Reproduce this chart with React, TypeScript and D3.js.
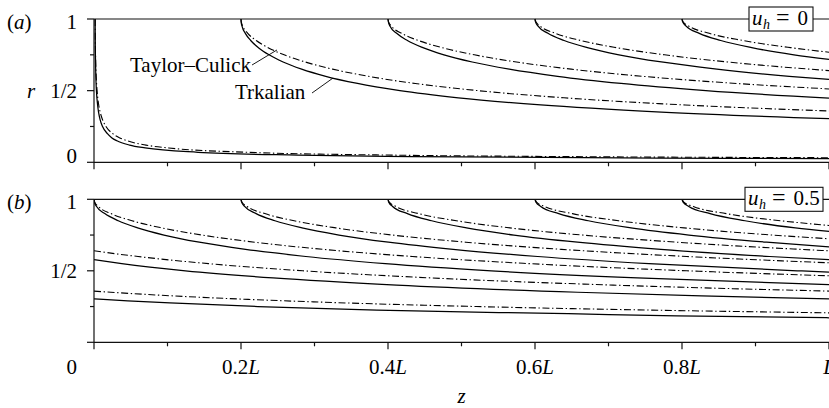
import React, { useEffect, useRef } from 'react';
import * as d3 from 'd3';

type Pt = [number, number]; // [z / L, r]

// ---- panel (a), u_h = 0 ----
// Taylor–Culick (dash-dot)
const tcA0: Pt[] = [[0.0016, 1], [0.00167, 0.9], [0.0019, 0.8], [0.0023, 0.7], [0.003, 0.6], [0.0042, 0.5], [0.0064, 0.4], [0.0084, 0.35], [0.0114, 0.3], [0.0163, 0.25], [0.0255, 0.2], [0.0353, 0.17], [0.0453, 0.15], [0.0707, 0.12], [0.1019, 0.1], [0.2079, 0.07], [0.4074, 0.05], [0.6367, 0.04], [1, 0.032]];
const tcA2: Pt[] = [[0.2, 1], [0.2004, 0.98], [0.2024, 0.95], [0.2092, 0.9], [0.2207, 0.85], [0.2369, 0.8], [0.2587, 0.75], [0.2874, 0.7], [0.3246, 0.65], [0.3733, 0.6], [0.4371, 0.55], [0.5226, 0.5], [0.6394, 0.45], [0.8042, 0.4], [1, 0.358]];
const tcA4: Pt[] = [[0.4, 1], [0.4008, 0.98], [0.4047, 0.95], [0.4185, 0.9], [0.4413, 0.85], [0.4737, 0.8], [0.5175, 0.75], [0.5748, 0.7], [0.6493, 0.65], [0.7465, 0.6], [0.8743, 0.55], [1, 0.512]];
const tcA6: Pt[] = [[0.6, 1], [0.6012, 0.98], [0.6071, 0.95], [0.6278, 0.9], [0.662, 0.85], [0.7106, 0.8], [0.7762, 0.75], [0.8622, 0.7], [0.9739, 0.65], [1, 0.64]];
const tcA8: Pt[] = [[0.8, 1], [0.8015, 0.98], [0.8095, 0.95], [0.837, 0.9], [0.8827, 0.85], [0.9475, 0.8], [1, 0.768]];
// Trkalian (solid)
const tkA0: Pt[] = [[0.0016, 1], [0.00165, 0.9], [0.0018, 0.8], [0.0021, 0.7], [0.0025, 0.6], [0.0033, 0.5], [0.0049, 0.4], [0.0062, 0.35], [0.0082, 0.3], [0.0116, 0.25], [0.0183, 0.2], [0.0244, 0.17], [0.0312, 0.15], [0.0485, 0.12], [0.0696, 0.1], [0.1415, 0.07], [0.2768, 0.05], [0.4322, 0.04], [0.7681, 0.03], [1, 0.026]];
const tkA2: Pt[] = [[0.2, 1], [0.2002, 0.98], [0.2014, 0.95], [0.2059, 0.9], [0.2132, 0.85], [0.2237, 0.8], [0.2381, 0.75], [0.2573, 0.7], [0.2825, 0.65], [0.3153, 0.6], [0.3585, 0.55], [0.4162, 0.5], [0.4957, 0.45], [0.6078, 0.4], [0.772, 0.35], [1, 0.304]];
const tkA4: Pt[] = [[0.4, 1], [0.4005, 0.98], [0.4028, 0.95], [0.4118, 0.9], [0.4264, 0.85], [0.4475, 0.8], [0.4761, 0.75], [0.5146, 0.7], [0.565, 0.65], [0.6307, 0.6], [0.7171, 0.55], [0.8325, 0.5], [1, 0.448]];
const tkA6: Pt[] = [[0.6, 1], [0.6007, 0.98], [0.6042, 0.95], [0.6176, 0.9], [0.6396, 0.85], [0.6712, 0.8], [0.7142, 0.75], [0.7719, 0.7], [0.8474, 0.65], [0.946, 0.6], [1, 0.578]];
const tkA8: Pt[] = [[0.8, 1], [0.8009, 0.98], [0.8056, 0.95], [0.8235, 0.9], [0.8528, 0.85], [0.8949, 0.8], [0.9523, 0.75], [1, 0.718]];

// ---- panel (b), u_h = 0.5 ----
const tcB1: Pt[] = [[0, 0.358], [0.0229, 0.35], [0.0538, 0.34], [0.1055, 0.325], [0.2097, 0.3], [0.3438, 0.275], [0.5203, 0.25], [0.7589, 0.225], [1, 0.206]];
const tcB3: Pt[] = [[0, 0.64], [0.0283, 0.62], [0.0599, 0.6], [0.1557, 0.55], [0.284, 0.5], [0.4592, 0.45], [0.7063, 0.4], [0.8692, 0.375], [1, 0.358]];
const tcB5: Pt[] = [[0, 1], [0.001, 0.98], [0.0059, 0.95], [0.0231, 0.9], [0.0517, 0.85], [0.0922, 0.8], [0.1468, 0.75], [0.2185, 0.7], [0.3116, 0.65], [0.4331, 0.6], [0.5928, 0.55], [0.8066, 0.5], [1, 0.465]];
const tcB7: Pt[] = [[0.2, 1], [0.2014, 0.98], [0.2083, 0.95], [0.2324, 0.9], [0.2723, 0.85], [0.3291, 0.8], [0.4056, 0.75], [0.5059, 0.7], [0.6362, 0.65], [0.8064, 0.6], [1, 0.556]];
const tcB9: Pt[] = [[0.4, 1], [0.4017, 0.98], [0.4107, 0.95], [0.4416, 0.9], [0.493, 0.85], [0.5659, 0.8], [0.6643, 0.75], [0.7933, 0.7], [0.9608, 0.65], [1, 0.64]];
const tcB11: Pt[] = [[0.6, 1], [0.6021, 0.98], [0.6131, 0.95], [0.6509, 0.9], [0.7137, 0.85], [0.8028, 0.8], [0.923, 0.75], [1, 0.724]];
const tcB13: Pt[] = [[0.8, 1], [0.8025, 0.98], [0.8154, 0.95], [0.8601, 0.9], [0.9344, 0.85], [0.972, 0.83], [1, 0.817]];
const tkB1: Pt[] = [[0, 0.304], [0.0126, 0.3], [0.0459, 0.29], [0.1032, 0.275], [0.223, 0.25], [0.3848, 0.225], [0.6452, 0.2], [0.7932, 0.185], [1, 0.1715]];
const tkB3: Pt[] = [[0, 0.5776], [0.0378, 0.55], [0.1244, 0.5], [0.2436, 0.45], [0.4117, 0.4], [0.6579, 0.35], [0.8264, 0.325], [1, 0.304]];
const tkB5: Pt[] = [[0, 1], [0.0006, 0.98], [0.0035, 0.95], [0.0147, 0.9], [0.033, 0.85], [0.0593, 0.8], [0.0952, 0.75], [0.1432, 0.7], [0.2062, 0.65], [0.2883, 0.6], [0.3964, 0.55], [0.5406, 0.5], [0.7393, 0.45], [1, 0.403]];
const tkB7: Pt[] = [[0.2, 1], [0.2008, 0.98], [0.2049, 0.95], [0.2206, 0.9], [0.2462, 0.85], [0.283, 0.8], [0.3333, 0.75], [0.4005, 0.7], [0.4887, 0.65], [0.6037, 0.6], [0.7549, 0.55], [0.9569, 0.5], [1, 0.491]];
const tkB9: Pt[] = [[0.4, 1], [0.401, 0.98], [0.4063, 0.95], [0.4264, 0.9], [0.4594, 0.85], [0.5068, 0.8], [0.5713, 0.75], [0.6578, 0.7], [0.7712, 0.65], [0.919, 0.6], [1, 0.5776]];
const tkB11: Pt[] = [[0.6, 1], [0.6013, 0.98], [0.6078, 0.95], [0.6323, 0.9], [0.6726, 0.85], [0.7305, 0.8], [0.8094, 0.75], [0.9151, 0.7], [1, 0.668]];
const tkB13: Pt[] = [[0.8, 1], [0.8015, 0.98], [0.8092, 0.95], [0.8382, 0.9], [0.8857, 0.85], [0.9542, 0.8], [1, 0.775]];

const zMajor = [0, 0.2, 0.4, 0.6, 0.8, 1];
const zMinor = [0.1, 0.3, 0.5, 0.7, 0.9];
const zLabels = ['0', '0.2', '0.4', '0.6', '0.8', ''];
const rMajor = [0, 0.5, 1];
const rMinor = [0.25, 0.75];

const FONT = '"Liberation Serif", "Times New Roman", serif';

const panels = [
  { id: 'a', top: 19, bottom: 162.3, uh: '0', tc: [tcA0, tcA2, tcA4, tcA6, tcA8], tk: [tkA0, tkA2, tkA4, tkA6, tkA8], rLabels: [[1, '1'], [0.5, '1/2'], [0, '0']] as [number, string][], boxX: 749, boxW: 64 },
  { id: 'b', top: 199.3, bottom: 342.3, uh: '0.5', tc: [tcB1, tcB3, tcB5, tcB7, tcB9, tcB11, tcB13], tk: [tkB1, tkB3, tkB5, tkB7, tkB9, tkB11, tkB13], rLabels: [[1, '1'], [0.5, '1/2']] as [number, string][], boxX: 745, boxW: 78 },
];

const App = () => {
  const svgRef = useRef<SVGSVGElement>(null);

  useEffect(() => {
    if (!svgRef.current) return;
    const svg = d3.select(svgRef.current);
    svg.selectAll('*').remove();

    const x = d3.scaleLinear().domain([0, 1]).range([94, 829]);

    panels.forEach((p) => {
      const y = d3.scaleLinear().domain([0, 1]).range([p.bottom, p.top]);
      const g = svg.append('g');

      svg.append('clipPath').attr('id', 'clip-' + p.id)
        .append('rect').attr('x', 94).attr('y', p.top - 2).attr('width', 735).attr('height', p.bottom - p.top + 4);

      const line = d3.line<Pt>().x(d => x(d[0])).y(d => y(d[1])).curve(d3.curveMonotoneX);
      const curves = g.append('g').attr('clip-path', `url(#clip-${p.id})`);

      p.tk.forEach(c => {
        curves.append('path').attr('d', line(c)).attr('fill', 'none')
          .attr('stroke', '#000').attr('stroke-width', 1.25);
      });
      p.tc.forEach(c => {
        curves.append('path').attr('d', line(c)).attr('fill', 'none')
          .attr('stroke', '#000').attr('stroke-width', 1.1)
          .attr('stroke-dasharray', '7 2.6 1.4 2.6');
      });

      // frame: left, bottom, top
      const ax = g.append('g').attr('stroke', '#111').attr('stroke-width', 1.2);
      ax.append('line').attr('x1', x(0)).attr('x2', x(0)).attr('y1', y(1)).attr('y2', y(0));
      ax.append('line').attr('x1', x(0)).attr('x2', x(1)).attr('y1', y(0)).attr('y2', y(0));
      ax.append('line').attr('x1', x(0)).attr('x2', x(1)).attr('y1', y(1)).attr('y2', y(1));

      zMajor.forEach(v => ax.append('line').attr('x1', x(v)).attr('x2', x(v)).attr('y1', y(0)).attr('y2', y(0) + 7));
      zMinor.forEach(v => ax.append('line').attr('x1', x(v)).attr('x2', x(v)).attr('y1', y(0)).attr('y2', y(0) + 4));
      rMajor.forEach(v => ax.append('line').attr('x1', x(0) - 7).attr('x2', x(0)).attr('y1', y(v)).attr('y2', y(v)));
      rMinor.forEach(v => ax.append('line').attr('x1', x(0) - 4).attr('x2', x(0)).attr('y1', y(v)).attr('y2', y(v)));

      // u_h box (drawn before the texts so it sits underneath them)
      g.append('rect').attr('x', p.boxX).attr('y', y(1) - 12).attr('width', p.boxW).attr('height', 24)
        .attr('fill', '#fff').attr('stroke', '#111').attr('stroke-width', 1.1);

      const txt = g.append('g').attr('font-family', FONT).attr('font-size', 21).attr('fill', '#000');

      p.rLabels.forEach(([v, t]) => {
        const dy = v === 1 ? 10 : v === 0.5 ? 7 : 0.5;
        txt.append('text').attr('x', 77).attr('y', y(v) + dy).attr('text-anchor', 'end').text(t);
      });
      if (p.id === 'a') {
        txt.append('text').attr('x', 27).attr('y', y(0.5) + 7).attr('font-style', 'italic').text('r');
      }

      const pl = txt.append('text').attr('x', 7).attr('y', y(1) + 10);
      pl.append('tspan').text('(');
      pl.append('tspan').attr('font-style', 'italic').text(p.id);
      pl.append('tspan').text(')');

      const bt = txt.append('text').attr('y', y(1) + 6);
      bt.append('tspan').attr('x', p.boxX + 3).attr('font-style', 'italic').text('u');
      bt.append('tspan').attr('x', p.boxX + 14).attr('dy', 4).attr('font-style', 'italic').attr('font-size', 14).text('h');
      bt.append('tspan').attr('x', p.boxX + 27).attr('dy', -4).attr('font-size', 24).text('=');
      bt.append('tspan').attr('x', p.boxX + 48.5).text(p.uh);

      if (p.id === 'a') {
        txt.append('text').attr('x', x(0.2136)).attr('y', y(0.63)).attr('text-anchor', 'end').text('Taylor–Culick');
        txt.append('text').attr('x', x(0.1918)).attr('y', y(0.4417)).text('Trkalian');
        const ld = g.append('g').attr('stroke', '#000').attr('stroke-width', 0.9);
        ld.append('line').attr('x1', x(0.215)).attr('y1', y(0.679)).attr('x2', x(0.249)).attr('y2', y(0.784));
        ld.append('line').attr('x1', x(0.2966)).attr('y1', y(0.4836)).attr('x2', x(0.3252)).attr('y2', y(0.588));
      } else {
        zMajor.forEach((v, i) => {
          const t = txt.append('text').attr('y', y(0) + 32)
            .attr('x', i === 0 ? 77 : x(v)).attr('text-anchor', i === 0 ? 'end' : 'middle');
          t.append('tspan').text(zLabels[i]);
          if (i > 0) t.append('tspan').attr('font-style', 'italic').text('L');
        });
        txt.append('text').attr('x', x(0.5)).attr('y', 403).attr('text-anchor', 'middle')
          .attr('font-style', 'italic').text('z');
      }
    });
  }, []);

  return (
    <svg ref={svgRef} width={829} height={408}
      style={{ position: 'absolute', left: 0, top: 0, background: '#fff', display: 'block' }} />
  );
};

export default App;
